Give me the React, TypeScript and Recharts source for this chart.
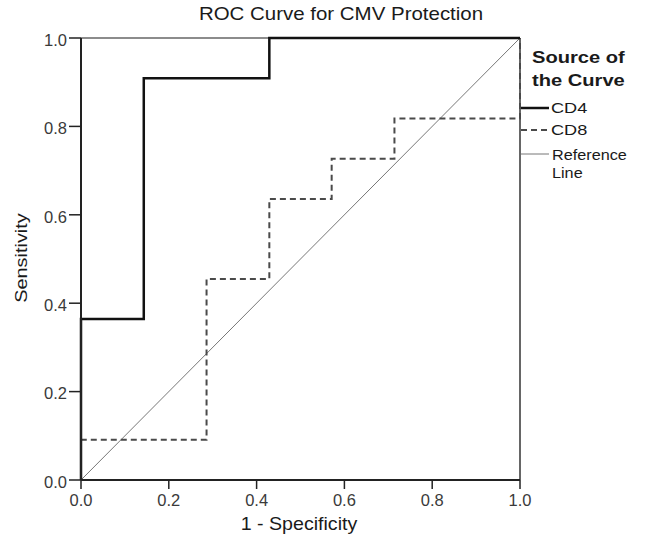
import React from "react";
import { LineChart, Line, XAxis, YAxis, ReferenceLine } from "recharts";

// ROC coordinates (1 - specificity, sensitivity)
const cd4Fpr = [0, 0, 0.143, 0.143, 0.429, 0.429, 1];
const cd4Tpr = [0, 0.364, 0.364, 0.909, 0.909, 1, 1];
const cd8Fpr = [0, 0, 0.286, 0.286, 0.429, 0.429, 0.571, 0.571, 0.714, 0.714, 1, 1];
const cd8Tpr = [0, 0.091, 0.091, 0.455, 0.455, 0.636, 0.636, 0.727, 0.727, 0.818, 0.818, 1];
const refFpr = [0, 1];
const refTpr = [0, 1];
const axisTicks = [0, 0.2, 0.4, 0.6, 0.8, 1.0];

const title = "ROC Curve for CMV Protection";
const xTitle = "1 - Specificity";
const yTitle = "Sensitivity";
const legendTitle = ["Source of", "the Curve"];
const seriesNames = ["CD4", "CD8", "Reference Line"];

const toPoints = (xs: number[], ys: number[]) => xs.map((x, i) => ({ x, y: ys[i] }));

const cd4 = toPoints(cd4Fpr, cd4Tpr);
const cd8 = toPoints(cd8Fpr, cd8Tpr);
const ref = toPoints(refFpr, refTpr);

const font = "Arial, 'Liberation Sans', sans-serif";

const XTick = (props: any) => {
    const { x, y, payload } = props;
    return (
        <text x={x} y={y} dy="0.71em" textAnchor="middle" fontSize={16.5} fill="#3a3a3a" fontFamily={font}>
            {Number(payload.value).toFixed(1)}
        </text>
    );
};

const YTick = (props: any) => {
    const { x, y, payload } = props;
    return (
        <text x={x} y={y + 2} dy="0.355em" textAnchor="end" fontSize={16.5} fill="#3a3a3a" fontFamily={font}>
            {Number(payload.value).toFixed(1)}
        </text>
    );
};

// wide text, the original font runs a bit wider than Arial
const Wide = ({ x, y, size, weight, anchor, rotate, sx, children }: any) => (
    <text
        transform={`translate(${x},${y})${rotate ? ` rotate(${rotate})` : ""} scale(${sx},1)`}
        fontSize={size}
        fontWeight={weight || "normal"}
        textAnchor={anchor || "start"}
        fill="#1a1a1a"
        fontFamily={font}>
        {children}
    </text>
);

export default function App() {
    return (
        <div style={{ position: "absolute", left: 0, top: 0, width: 646, height: 543, background: "#fff" }}>
            <LineChart
                width={646}
                height={543}
                margin={{ top: 38, right: 126, bottom: 23, left: 41 }}>
                <XAxis
                    type="number"
                    dataKey="x"
                    domain={[0, 1]}
                    ticks={axisTicks}
                    height={40}
                    tickSize={9}
                    tickMargin={5}
                    tick={<XTick />}
                    axisLine={{ stroke: "#222", strokeWidth: 2 }}
                    tickLine={{ stroke: "#222", strokeWidth: 1.5 }} />
                <YAxis
                    type="number"
                    dataKey="y"
                    domain={[0, 1]}
                    ticks={axisTicks}
                    width={40}
                    tickSize={12}
                    tickMargin={2}
                    tick={<YTick />}
                    axisLine={{ stroke: "#222", strokeWidth: 2 }}
                    tickLine={{ stroke: "#222", strokeWidth: 1.5 }} />
                <ReferenceLine y={1} stroke="#666" strokeWidth={1.5} />
                <ReferenceLine x={1} stroke="#333" strokeWidth={1.5} />
                <Line
                    data={ref}
                    dataKey="y"
                    type="linear"
                    stroke="#777"
                    strokeWidth={1}
                    dot={false}
                    isAnimationActive={false} />
                <Line
                    data={cd8}
                    dataKey="y"
                    type="linear"
                    stroke="#4a4a4a"
                    strokeWidth={2}
                    strokeDasharray="6 4"
                    dot={false}
                    isAnimationActive={false} />
                <Line
                    data={cd4}
                    dataKey="y"
                    type="linear"
                    stroke="#111"
                    strokeWidth={2.5}
                    dot={false}
                    isAnimationActive={false} />
            </LineChart>
            <svg
                width={646}
                height={543}
                style={{ position: "absolute", left: 0, top: 0, pointerEvents: "none" }}>
                <Wide x={341} y={20} size={17.5} anchor="middle" sx={1.17}>{title}</Wide>
                <Wide x={299} y={530} size={18} anchor="middle" sx={1.09}>{xTitle}</Wide>
                <Wide x={27} y={258} size={17} anchor="middle" rotate={-90} sx={1.17}>{yTitle}</Wide>
                <Wide x={532} y={63} size={16.5} weight="bold" sx={1.22}>{legendTitle[0]}</Wide>
                <Wide x={532} y={86} size={16.5} weight="bold" sx={1.22}>{legendTitle[1]}</Wide>
                <line x1={521} y1={108} x2={549} y2={108} stroke="#111" strokeWidth={2.5} />
                <Wide x={551} y={113} size={14.5} sx={1.25}>{seriesNames[0]}</Wide>
                <line x1={521} y1={130} x2={549} y2={130} stroke="#4a4a4a" strokeWidth={2} strokeDasharray="6 4" />
                <Wide x={551} y={135} size={14.5} sx={1.25}>{seriesNames[1]}</Wide>
                <line x1={521} y1={154} x2={549} y2={154} stroke="#777" strokeWidth={1} />
                <Wide x={552} y={160} size={14.5} sx={1.12}>{seriesNames[2].split(" ")[0]}</Wide>
                <Wide x={552} y={178} size={14.5} sx={1.12}>{seriesNames[2].split(" ")[1]}</Wide>
            </svg>
        </div>
    );
}
